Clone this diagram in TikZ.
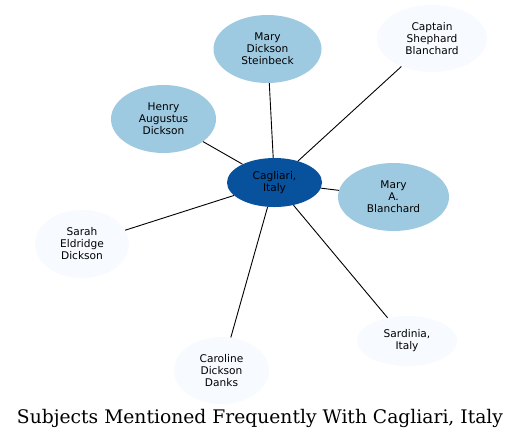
\documentclass[tikz,border=0pt]{standalone}
\usepackage{fontspec}
\setmainfont{DejaVu Sans}
\newfontfamily\titlefont{DejaVu Serif}
\usetikzlibrary{shapes.geometric}
\definecolor{dark}{HTML}{08519C}
\definecolor{mid}{HTML}{9ECAE1}
\definecolor{pale}{HTML}{F7FBFF}
\tikzset{
  ent/.style={ellipse, draw=none, inner sep=0pt, align=center,
    font=\fontsize{10.6}{12}\selectfont, text=black},
  edge/.style={draw=black, line width=0.9pt}
}
\begin{document}
\begin{tikzpicture}[x=1pt,y=-1pt]
\useasboundingbox (0,0) rectangle (521,440);
\fill[white] (0,0) rectangle (521,440);
\node[ent, fill=dark, minimum width=95pt, minimum height=49pt] (c) at (274.5,182.5) {Cagliari,\\Italy};
\node[ent, fill=mid, minimum width=108pt, minimum height=68pt] (mds) at (267.5,49) {Mary\\Dickson\\Steinbeck};
\node[ent, fill=pale, minimum width=110pt, minimum height=67pt] (csb) at (432,38.5) {Captain\\Shephard\\Blanchard};
\node[ent, fill=mid, minimum width=111pt, minimum height=68pt] (mab) at (393.5,197) {Mary\\A.\\Blanchard};
\node[ent, fill=mid, minimum width=105pt, minimum height=68pt] (had) at (163.5,119) {Henry\\Augustus\\Dickson};
\node[ent, fill=pale, minimum width=94pt, minimum height=68pt] (sed) at (82,244) {Sarah\\Eldridge\\Dickson};
\node[ent, fill=pale, minimum width=95pt, minimum height=67pt] (cdd) at (221.5,370.5) {Caroline\\Dickson\\Danks};
\node[ent, fill=pale, minimum width=100pt, minimum height=50pt] (sar) at (407,341) {Sardinia,\\Italy};
\foreach \n in {mds,csb,mab,had,sed,cdd,sar} \draw[edge] (c) -- (\n);
\node[anchor=base, inner sep=0pt] (title) at (260,423) {\resizebox{486pt}{!}{\titlefont Subjects Mentioned Frequently With Cagliari, Italy}};
\end{tikzpicture}
\end{document}
